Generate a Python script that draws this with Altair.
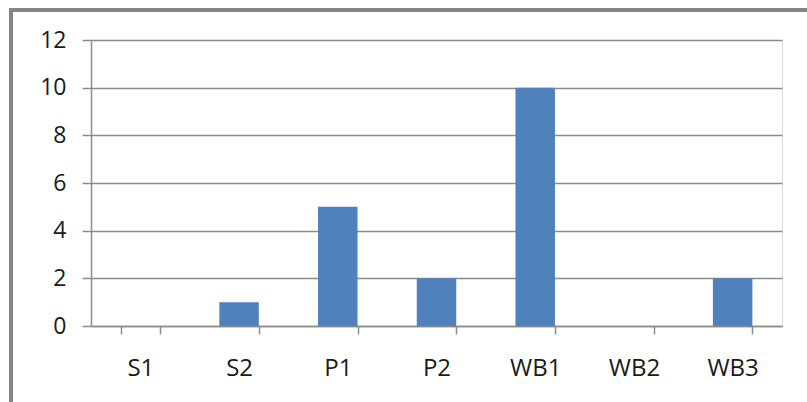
import altair as alt
import pandas as pd

categories = ["S1", "S2", "P1", "P2", "WB1", "WB2", "WB3"]
values = [0, 1, 5, 2, 10, 0, 2]
y_ticks = [0, 2, 4, 6, 8, 10, 12]

df = pd.DataFrame({"cat": categories, "val": values})

GRID = "#8c8c8c"
FONT = "Open Sans"
TEXT = "#1a1a1a"

bars = alt.Chart(df).mark_bar(color="#4F81BD").encode(
    x=alt.X(
        "cat:N",
        sort=categories,
        title=None,
        scale=alt.Scale(paddingInner=0.6, paddingOuter=0.3),
        axis=alt.Axis(
            labelAngle=0,
            labelFont=FONT,
            labelFontSize=24,
            labelColor=TEXT,
            labelPadding=22,
            domainColor=GRID,
            domainWidth=1.5,
            tickColor=GRID,
            tickWidth=1.5,
            tickSize=8,
            tickBand="extent",
            grid=False,
        ),
    ),
    y=alt.Y(
        "val:Q",
        title=None,
        scale=alt.Scale(domain=[0, 12], nice=False),
        axis=alt.Axis(
            values=y_ticks,
            labelFont=FONT,
            labelFontSize=23,
            labelColor=TEXT,
            labelPadding=16,
            domainColor=GRID,
            domainWidth=1.5,
            tickColor=GRID,
            tickWidth=1.5,
            tickSize=9,
            gridColor=GRID,
            gridWidth=1.5,
        ),
    ),
)

# outer chart frame (its right and bottom edges fall outside the page)
frame = alt.Chart(df).mark_rect(
    fill=None, stroke="#868686", strokeWidth=3
).encode(
    x=alt.value(-80),
    x2=alt.value(760),
    y=alt.value(-30),
    y2=alt.value(420),
)

chart = (
    alt.layer(frame, bars)
    .properties(
        width=691,
        height=286,
        autosize=alt.AutoSizeParams(type="none"),
        padding={"left": 91, "top": 40, "right": 25, "bottom": 76},
    )
    .configure_view(stroke=None)
    .configure(background="white")
)

chart.save("out.html", embed_options={"renderer": "svg", "actions": False})
